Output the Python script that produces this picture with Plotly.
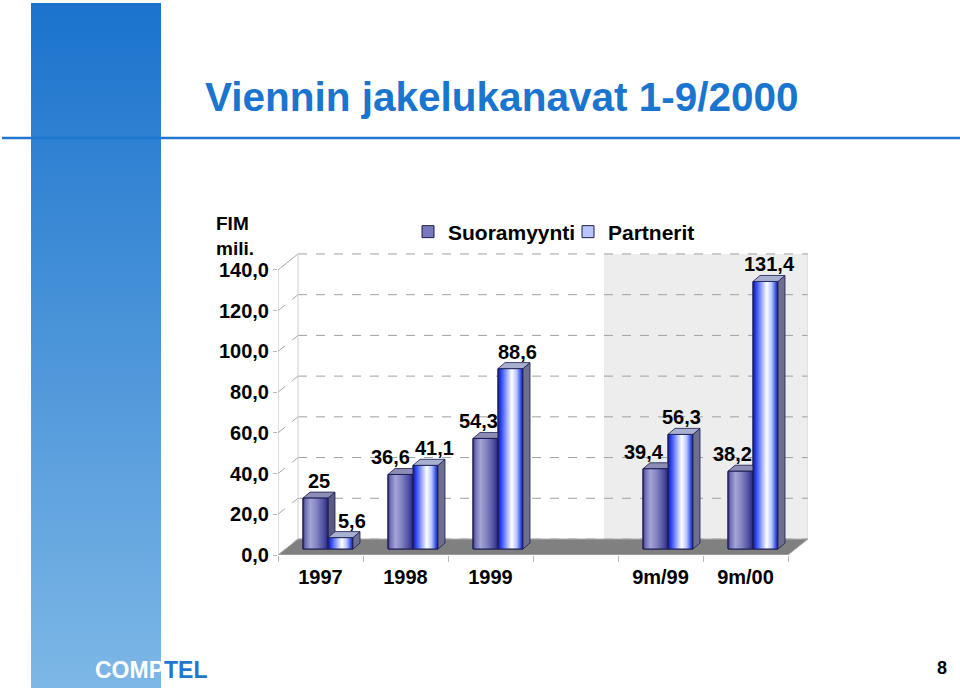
import plotly.graph_objects as go

# ---------------- data ----------------
categories = ["1997", "1998", "1999", "", "9m/99", "9m/00"]
suoramyynti = [25, 36.6, 54.3, None, 39.4, 38.2]
partnerit = [5.6, 41.1, 88.6, None, 56.3, 131.4]
series_names = ["Suoramyynti", "Partnerit"]
y_ticks = [0, 20, 40, 60, 80, 100, 120, 140]
y_tick_labels = ["0,0", "20,0", "40,0", "60,0", "80,0", "100,0", "120,0", "140,0"]

# ---------------- style / layout constants ----------------
label_xshift = [[0, -14, -11, None, -15, -12], [8, 5, 3, None, -3, 0]]
FONT = "Liberation Sans, Arial, Helvetica, sans-serif"
W, H = 960, 691
X_LEFT, X_RIGHT = 278, 808      # pixel span of x axis (front left .. back right)
Y_ZERO, Y_TOP = 555, 245        # pixel of value 0 (front) and top of plot area
SLOT_PX = 85.0                  # pixels per category slot
PX_PER_UNIT = 2.036             # pixels per value unit

x_max = (X_RIGHT - X_LEFT) / SLOT_PX
y_max = (Y_ZERO - Y_TOP) / PX_PER_UNIT
wall_dx, wall_dy = 20 / SLOT_PX, 16 / PX_PER_UNIT     # depth of the 3D box
bar_dx0, bar_dy0 = 7.5 / SLOT_PX, 6 / PX_PER_UNIT     # bar front plane offset
dep_dx, dep_dy = 7 / SLOT_PX, 6 / PX_PER_UNIT         # bar depth
bar_w = 25 / SLOT_PX
n_cat = len(categories)
top_val = y_ticks[-1]

front_scales = [
    [[0, "#26266e"], [0.08, "#6a6ab2"], [0.3, "#a4a4d6"], [0.55, "#8282c2"],
     [0.85, "#4a4a9e"], [1, "#262678"]],
    [[0, "#18189a"], [0.12, "#2846ee"], [0.32, "#8c9cff"], [0.55, "#ffffff"],
     [0.75, "#b4c2ff"], [0.9, "#3c5ae6"], [1, "#1a1a8c"]],
]
side_colors = ["#5a5a82", "#6e6e8e"]
top_colors = ["#8c8cb4", "#a8b0d0"]
legend_colors = ["#7878bc", "#b8c6ff"]
edge = "#1c1c52"

fig = go.Figure()

series = [suoramyynti, partnerit]

# real bar traces (front faces)
for s, vals in enumerate(series):
    xs, ys = [], []
    for i, v in enumerate(vals):
        if v is None:
            continue
        xs.append(i + 0.5 + bar_dx0)
        ys.append(v)
    fig.add_trace(go.Bar(
        x=xs, y=ys, base=bar_dy0, width=bar_w,
        offset=-bar_w if s == 0 else 0,
        name=series_names[s],
        marker=dict(color=legend_colors[s], line=dict(color=edge, width=1)),
        showlegend=True, hoverinfo="skip",
    ))


def face_geometry(s, i, v):
    c = i + 0.5 + bar_dx0
    x0 = c - bar_w if s == 0 else c
    x1 = x0 + bar_w
    y0 = bar_dy0
    y1 = bar_dy0 + v
    return x0, x1, y0, y1


def add_side_top(s):
    sx, sy, tx, ty = [], [], [], []
    for i, v in enumerate(series[s]):
        if v is None:
            continue
        x0, x1, y0, y1 = face_geometry(s, i, v)
        sx += [x1, x1 + dep_dx, x1 + dep_dx, x1, x1, None]
        sy += [y0, y0 + dep_dy, y1 + dep_dy, y1, y0, None]
        tx += [x0, x1, x1 + dep_dx, x0 + dep_dx, x0, None]
        ty += [y1, y1, y1 + dep_dy, y1 + dep_dy, y1, None]
    fig.add_trace(go.Scatter(x=sx, y=sy, mode="lines", fill="toself",
                             fillcolor=side_colors[s], line=dict(color=edge, width=0.8),
                             showlegend=False, hoverinfo="skip"))
    fig.add_trace(go.Scatter(x=tx, y=ty, mode="lines", fill="toself",
                             fillcolor=top_colors[s], line=dict(color=edge, width=0.8),
                             showlegend=False, hoverinfo="skip"))


def add_fronts(s):
    for i, v in enumerate(series[s]):
        if v is None:
            continue
        x0, x1, y0, y1 = face_geometry(s, i, v)
        fig.add_trace(go.Scatter(
            x=[x0, x1, x1, x0, x0], y=[y0, y0, y1, y1, y0],
            mode="lines", fill="toself",
            fillgradient=dict(type="horizontal", colorscale=front_scales[s],
                              start=x0, stop=x1),
            line=dict(color=edge, width=1),
            showlegend=False, hoverinfo="skip"))


add_side_top(0)
add_fronts(0)
add_fronts(1)
add_side_top(1)

# data labels
annotations = []
for s, vals in enumerate(series):
    for i, v in enumerate(vals):
        if v is None:
            continue
        x0, x1, y0, y1 = face_geometry(s, i, v)
        annotations.append(dict(
            x=(x0 + x1) / 2 + dep_dx / 2, y=y1 + dep_dy, xref="x", yref="y",
            text=f"{v:g}".replace(".", ","), showarrow=False,
            xanchor="center", yanchor="bottom",
            xshift=label_xshift[s][i], yshift=-2,
            font=dict(family=FONT, size=20, color="black", weight="bold")))

# ---------------- 3D box shapes ----------------
shapes = []
grey_band_x0 = (604 - X_LEFT) / SLOT_PX
shapes.append(dict(type="rect", xref="x", yref="y", x0=grey_band_x0, x1=x_max,
                   y0=wall_dy, y1=top_val + wall_dy, fillcolor="#ededed",
                   line=dict(width=0), layer="below"))
for v in y_ticks:
    shapes.append(dict(type="line", xref="x", yref="y", x0=wall_dx, x1=x_max,
                       y0=v + wall_dy, y1=v + wall_dy, layer="below",
                       line=dict(color="#a0a0a0", width=1, dash="dash")))
    shapes.append(dict(type="line", xref="x", yref="y", x0=0, x1=wall_dx,
                       y0=v, y1=v + wall_dy, layer="below",
                       line=dict(color="#a8a8a8", width=1,
                                 dash="solid" if v == top_val else "dash")))
shapes.append(dict(type="line", xref="x", yref="y", x0=wall_dx, x1=wall_dx,
                   y0=wall_dy, y1=top_val + wall_dy, layer="below",
                   line=dict(color="#cfcfcf", width=1)))
shapes.append(dict(type="line", xref="x", yref="y", x0=x_max, x1=x_max,
                   y0=wall_dy, y1=top_val + wall_dy, layer="below",
                   line=dict(color="#d4d4d4", width=1)))
shapes.append(dict(type="line", xref="x", yref="y", x0=0, x1=0,
                   y0=0, y1=top_val, layer="below",
                   line=dict(color="#bdbdbd", width=1)))
shapes.append(dict(type="path", xref="x", yref="y", layer="below",
                   path=f"M 0,0 L {n_cat},0 L {n_cat + wall_dx},{wall_dy} L {wall_dx},{wall_dy} Z",
                   fillcolor="#808080", line=dict(color="#b0b0b0", width=1)))
# title rule
shapes.append(dict(type="line", xref="paper", yref="paper", x0=2 / W, x1=1,
                   y0=(H - 138) / H, y1=(H - 138) / H, layer="above",
                   line=dict(color="#1e78d0", width=2.5)))

# ---------------- decorative slide stripe (overlay axes in pixels) ----------------
fig.add_trace(go.Scatter(
    x=[31, 161, 161, 31, 31], y=[3, 3, 688, 688, 3], xaxis="x2", yaxis="y2",
    mode="lines", fill="toself", line=dict(width=0),
    fillgradient=dict(type="vertical", colorscale=[[0, "#1b73cd"], [1, "#7db7e6"]],
                      start=3, stop=688),
    showlegend=False, hoverinfo="skip"))

# ---------------- slide text ----------------
annotations += [
    dict(x=203 / W, y=(H - 97) / H, xref="paper", yref="paper",
         text="Viennin jakelukanavat 1-9/2000", showarrow=False,
         xanchor="left", yanchor="middle",
         font=dict(family=FONT, size=40.5, color="#1a75cf", weight="bold")),
    dict(x=214 / W, y=(H - 211) / H, xref="paper", yref="paper",
         text="FIM<br>mili.", showarrow=False, align="left",
         xanchor="left", yanchor="top",
         font=dict(family=FONT, size=19, color="black", weight="bold")),
    dict(x=93 / W, y=(H - 670) / H, xref="paper", yref="paper",
         text="<span style='color:white'>COMP</span><span style='color:#1e78d0'>TEL</span>",
         showarrow=False, xanchor="left", yanchor="middle",
         font=dict(family=FONT, size=23, weight="bold")),
    dict(x=942 / W, y=(H - 668) / H, xref="paper", yref="paper",
         text="8", showarrow=False, xanchor="center", yanchor="middle",
         font=dict(family=FONT, size=18, color="black", weight="bold")),
]

fig.update_layout(
    width=W, height=H, margin=dict(l=0, r=0, t=0, b=0),
    paper_bgcolor="white", plot_bgcolor="rgba(0,0,0,0)",
    barmode="overlay", shapes=shapes, annotations=annotations,
    font=dict(family=FONT, color="black"),
    showlegend=True,
    legend=dict(orientation="h", x=408 / W, y=(H - 232) / H,
                xanchor="left", yanchor="middle", bgcolor="rgba(0,0,0,0)",
                entrywidth=115, entrywidthmode="pixels",
                font=dict(family=FONT, size=21, color="black", weight="bold"),
                itemclick=False, itemdoubleclick=False),
    xaxis=dict(domain=[X_LEFT / W, X_RIGHT / W], range=[0, x_max],
               tickvals=[i + 0.5 for i in range(n_cat)], ticktext=categories,
               ticks="", showgrid=False, zeroline=False, showline=False,
               ticklabelstandoff=8,
               tickfont=dict(family=FONT, size=20, color="black", weight="bold"),
               minor=dict(tickmode="linear", tick0=0, dtick=1, ticks="outside",
                          ticklen=6, tickcolor="#b8b8b8", showgrid=False),
               fixedrange=True, automargin=False),
    yaxis=dict(domain=[(H - Y_ZERO) / H, (H - Y_TOP) / H], range=[0, y_max],
               tickvals=y_ticks, ticktext=y_tick_labels, ticks="outside",
               ticklen=4, tickcolor="#b8b8b8", showgrid=False, zeroline=False,
               showline=False,
               tickfont=dict(family=FONT, size=20, color="black", weight="bold"),
               fixedrange=True, automargin=False),
    xaxis2=dict(domain=[0, 1], range=[0, W], anchor="y2", visible=False,
                fixedrange=True),
    yaxis2=dict(domain=[0, 1], range=[H, 0], anchor="x2", visible=False,
                fixedrange=True),
)

fig.write_html("out.html", config={"displayModeBar": False},
               post_script="document.body.style.margin='0';document.body.style.overflow='hidden';")
